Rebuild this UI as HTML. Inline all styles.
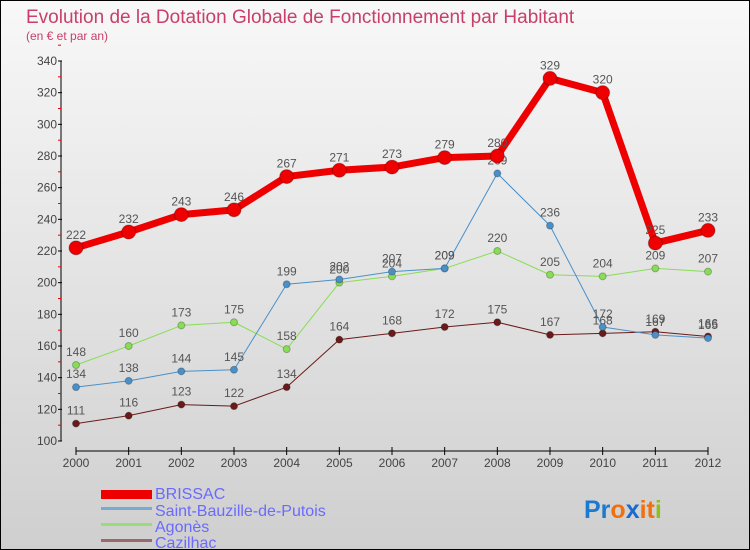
<!DOCTYPE html>
<html><head><meta charset="utf-8"><style>
body{margin:0}
#c{width:748px;height:548px;border:1px solid #000;background:linear-gradient(#f8f8f8,#cfcfcf);position:relative;overflow:hidden;font-family:"Liberation Sans",sans-serif}
</style></head><body>
<div id="c">
<svg id="s" width="748" height="548" style="position:absolute;left:0;top:0">
<text x="25" y="22" font-size="19" fill="#c8406a">Evolution de la Dotation Globale de Fonctionnement par Habitant</text>
<text x="25" y="39" font-size="12" fill="#c8406a">(en € et par an)</text>
<g id="ax"></g><g id="ser"></g>
<g font-size="16" fill="#6a6aff">
<rect x="100" y="489" width="51" height="9" fill="#e00"/>
<text x="154" y="498">BRISSAC</text>
<rect x="100" y="506" width="51" height="3" fill="#7aaad0"/>
<text x="154" y="515">Saint-Bauzille-de-Putois</text>
<rect x="100" y="522" width="51" height="3" fill="#99dd77"/>
<text x="154" y="531">Agonès</text>
<rect x="100" y="538" width="51" height="3" fill="#9a6a6a"/>
<text x="154" y="547">Cazilhac</text>
</g>
<text x="583" y="517" font-size="25" font-weight="bold"><tspan fill="#1a7ad0">Pr</tspan><tspan fill="#f07010">o</tspan><tspan fill="#1a6ad0">x</tspan><tspan fill="#f07010">it</tspan><tspan fill="#8cc020">i</tspan></text>
</svg>
</div>
<script>
const years=[2000,2001,2002,2003,2004,2005,2006,2007,2008,2009,2010,2011,2012];
const yTicks=[100,120,140,160,180,200,220,240,260,280,300,320,340];
const brissac=[222,232,243,246,267,271,273,279,280,329,320,225,233];
const bauzille=[134,138,144,145,199,202,207,209,269,236,172,167,165];
const agones=[148,160,173,175,158,200,204,209,220,205,204,209,207];
const cazilhac=[111,116,123,122,134,164,168,172,175,167,168,169,166];
const NS="http://www.w3.org/2000/svg";
const X=i=>75+i*(632/12);
const Y=v=>440-(v-100)*(380/240);
function mk(t,a,p){const e=document.createElementNS(NS,t);for(const k in a)e.setAttribute(k,a[k]);p.appendChild(e);return e;}
const ax=document.getElementById('ax'),ser=document.getElementById('ser');
let l=mk('line',{x1:60,y1:60,x2:60,y2:440,stroke:'#000','stroke-width':1},ax);


yTicks.forEach(v=>{
 let t=mk('text',{x:56,y:Y(v)+4,'font-size':12,fill:'#444','text-anchor':'end'},ax);t.textContent=v;
 
 
 mk('line',{x1:57,y1:Y(v),x2:61,y2:Y(v),stroke:'#000'},ax);
 mk('line',{x1:57,y1:Y(v+10),x2:60,y2:Y(v+10),stroke:'#e00'},ax);
});
l=mk('line',{x1:75,y1:450,x2:707,y2:450,stroke:'#000'},ax);


years.forEach((y,i)=>{
 mk('line',{x1:X(i),y1:446,x2:X(i),y2:454,stroke:'#000'},ax);
 let t=mk('text',{x:X(i),y:466,'font-size':12,fill:'#444','text-anchor':'middle'},ax);t.textContent=y;
 
 
});
function series(d,col,w,r,name){
 const g=mk('g',{},ser);
 
 
 let p=mk('polyline',{points:d.map((v,i)=>X(i)+','+Y(v)).join(' '),fill:'none',stroke:col,'stroke-width':w,'stroke-linejoin':'round'},g);
 
 
 d.forEach((v,i)=>{
  let c=mk('circle',{cx:X(i),cy:Y(v),r:r,fill:col,stroke:'rgba(0,0,0,0.25)'},g);
  
  
  let t=mk('text',{x:X(i),y:Y(v)-9,'font-size':12,fill:'#555','text-anchor':'middle'},g);t.textContent=v;
  
  
 });
}
series(cazilhac,'#6b1a1a',1,3.5,'cazilhac');
series(agones,'#88dd55',1,3.5,'agones');
series(bauzille,'#4a90c8',1,3.5,'saint-bauzille');
series(brissac,'#ee0000',7,7,'brissac');
</script>
</body></html>
